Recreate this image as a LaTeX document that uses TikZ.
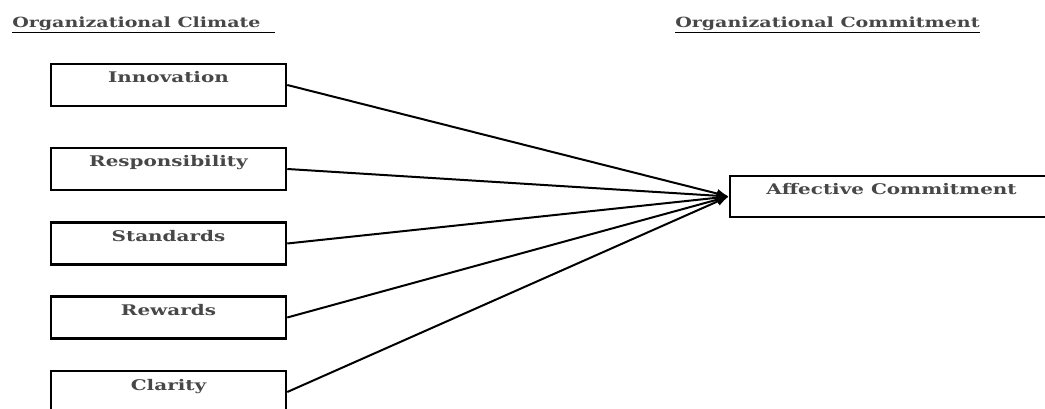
\documentclass[tikz,border=0pt]{standalone}
\usepackage{fontspec}
\setmainfont{DejaVu Serif}
\usetikzlibrary{arrows.meta}
\newcommand\wide[1]{\scalebox{1.36}[1]{#1}}
\begin{document}
\begin{tikzpicture}[x=0.75pt,y=-0.75pt,
  box/.style={draw, line width=1.9pt, minimum width=176.25pt, minimum height=31.5pt, inner sep=0pt},
  lbl/.style={anchor=base, inner sep=0pt, font=\bfseries\fontsize{11}{13}\selectfont, text=black!72},
  hdr/.style={anchor=base west, inner sep=0pt, font=\bfseries\fontsize{10.5}{13}\selectfont, text=black!72},
  conn/.style={line width=1.5pt, -{Latex[length=9pt,width=7pt]}}]
\useasboundingbox (0,0) rectangle (1045,409);
\clip (0,0) rectangle (1045,409);
% headers
\node[hdr] (h1) at (12,28) {\wide{Organizational Climate}};
\draw[line width=1pt] (12,32.5) -- (275,32.5);
\node[hdr] (h2) at (675,28) {\wide{Organizational Commitment}};
\draw[line width=1pt] (h2.west |- 0,32.5) -- (h2.east |- 0,32.5);
% boxes
\node[box] (inn) at (168.5,85) {};
\node[box] (res) at (168.5,169) {};
\node[box] (sta) at (168.5,243.5) {};
\node[box] (rew) at (168.5,317.5) {};
\node[box] (cla) at (168.5,392) {};
\node[box, minimum width=242.25pt, minimum height=30.75pt] (aff) at (891.5,196.5) {};
% labels
\node[lbl] (tinn) at (168.5,83) {\wide{Innovation}};
\node[lbl] (tres) at (168.5,167) {\wide{Responsibility}};
\node[lbl] (tsta) at (168.5,241.5) {\wide{Standards}};
\node[lbl] (trew) at (168.5,315.5) {\wide{Rewards}};
\node[lbl] (tcla) at (168.5,390) {\wide{Clarity}};
\node[lbl] (taff) at (891.5,195) {\wide{Affective Commitment}};
% connectors
\foreach \n in {inn,res,sta,rew,cla}
  \draw[conn] (\n.east) -- (aff.west);
\end{tikzpicture}
\end{document}
